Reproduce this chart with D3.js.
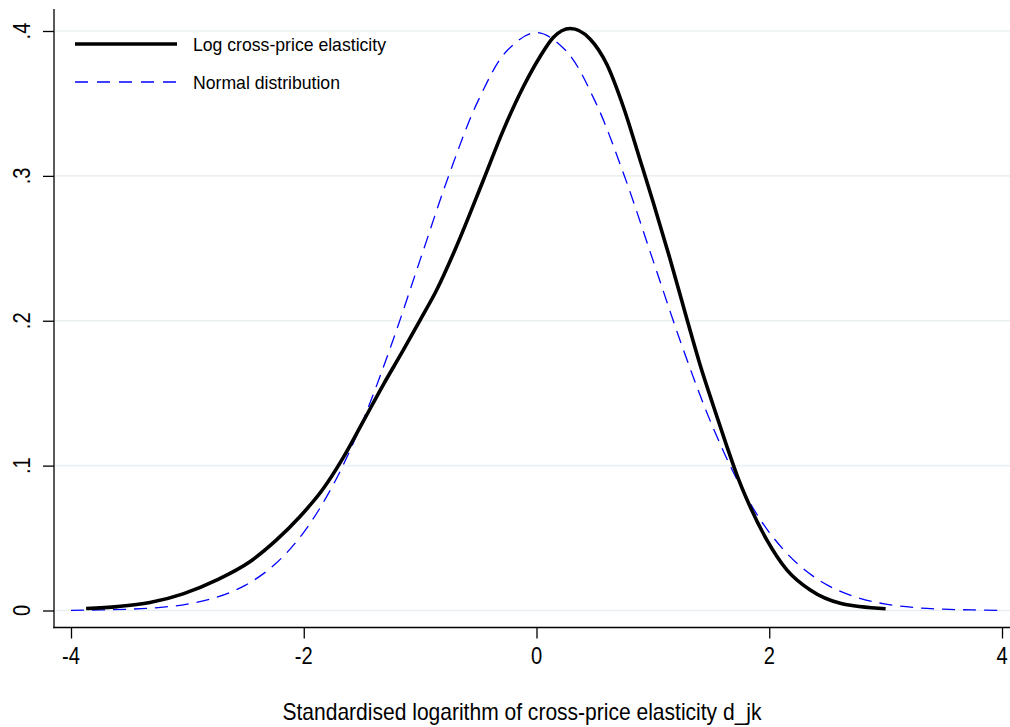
<!DOCTYPE html>
<html>
<head>
<meta charset="utf-8">
<script src="https://cdn.jsdelivr.net/npm/d3@7"></script>
<style>
  html, body { margin: 0; padding: 0; background: #fff; }
  svg { display: block; }
  text { font-family: "Liberation Sans Narrow", "Arial Narrow", "Liberation Sans", Arial, sans-serif; fill: #000; }
</style>
</head>
<body>
<svg id="chart" width="1010" height="727"></svg>
<script>
// ---- Data ----
const xTicks = [-4, -2, 0, 2, 4];
const yTicks = [0, 0.1, 0.2, 0.3, 0.4];
const yTickLabels = ["0", ".1", ".2", ".3", ".4"];
const seriesNames = ["Log cross-price elasticity", "Normal distribution"];
const xTitle = "Standardised logarithm of cross-price elasticity d_jk";

// Kernel density of the standardised log cross-price elasticity
const kdX = [-3.87, -3.6, -3.322, -3.037, -2.75, -2.463, -2.234, -2.034, -1.833, -1.661, -1.489, -1.317, -1.145, -1.0, -0.858, -0.701, -0.457, -0.285, -0.113, 0.03, 0.144, 0.29, 0.46, 0.604, 0.746, 0.89, 1.004, 1.148, 1.291, 1.406, 1.52, 1.635, 1.72, 1.836, 1.979, 2.151, 2.352, 2.61, 3.0];
const kdY = [0.0014, 0.0027, 0.0055, 0.0115, 0.021, 0.0337, 0.0487, 0.0647, 0.0840, 0.1055, 0.1305, 0.1558, 0.1797, 0.2005, 0.2212, 0.2488, 0.297, 0.3316, 0.3615, 0.3822, 0.3955, 0.4017, 0.3945, 0.3770, 0.3477, 0.311, 0.2815, 0.2425, 0.2015, 0.1695, 0.1412, 0.1135, 0.0940, 0.0716, 0.0487, 0.028, 0.0141, 0.005, 0.0012];

// Normal distribution curve values
const nX = [-4, -3.75, -3.5, -3.25, -3, -2.75, -2.5, -2.25, -2, -1.75, -1.5, -1.25, -1, -0.75, -0.5, -0.25, 0, 0.25, 0.5, 0.75, 1, 1.25, 1.5, 1.75, 2, 2.25, 2.5, 2.75, 3, 3.25, 3.5, 3.75, 4];
const nY = [0.0001, 0.0004, 0.0009, 0.0020, 0.0044, 0.0091, 0.0175, 0.0317, 0.0540, 0.0863, 0.1295, 0.1827, 0.2420, 0.3011, 0.3521, 0.3867, 0.3989, 0.3867, 0.3521, 0.3011, 0.2420, 0.1827, 0.1295, 0.0863, 0.0540, 0.0317, 0.0175, 0.0091, 0.0044, 0.0020, 0.0009, 0.0004, 0.0001];

// ---- Layout ----
const svg = d3.select("#chart");
const axisX = 54, axisY = 627.5, rightEdge = 1010, topEdge = 9;
const x = d3.scaleLinear().domain([-4, 4]).range([71, 1002]);
const y = d3.scaleLinear().domain([0, 0.4]).range([610.5, 31]);
const narrow = 0.84;

// gridlines
svg.append("g").selectAll("line").data(yTicks).join("line")
  .attr("x1", axisX + 1).attr("x2", rightEdge)
  .attr("y1", d => y(d)).attr("y2", d => y(d))
  .attr("stroke", "#eaf0f2").attr("stroke-width", 1.6);

// y axis
const gy = svg.append("g").attr("transform", `translate(${axisX},0)`)
  .call(d3.axisLeft(y).tickValues(yTicks).tickSize(11).tickFormat((d, i) => yTickLabels[i]));
gy.select(".domain").remove();
gy.selectAll(".tick line").attr("stroke", "#000").attr("stroke-width", 1.3);
gy.selectAll(".tick text").remove();
svg.append("line").attr("x1", axisX).attr("x2", axisX).attr("y1", topEdge).attr("y2", axisY + 0.7)
  .attr("stroke", "#000").attr("stroke-width", 1.3);
svg.append("g").selectAll("text").data(yTicks).join("text")
  .attr("transform", d => `translate(30,${y(d)}) rotate(-90) scale(${narrow},1)`)
  .attr("text-anchor", "middle").attr("font-size", 24)
  .text((d, i) => yTickLabels[i]);

// x axis
const gx = svg.append("g").attr("transform", `translate(0,${axisY})`)
  .call(d3.axisBottom(x).tickValues(xTicks).tickSize(11).tickFormat(d => d));
gx.select(".domain").remove();
gx.selectAll(".tick line").attr("stroke", "#000").attr("stroke-width", 1.3);
gx.selectAll(".tick text").remove();
svg.append("line").attr("x1", axisX - 0.6).attr("x2", rightEdge).attr("y1", axisY).attr("y2", axisY)
  .attr("stroke", "#000").attr("stroke-width", 1.3);
svg.append("g").selectAll("text").data(xTicks).join("text")
  .attr("transform", d => `translate(${x(d)},664) scale(${narrow},1)`)
  .attr("text-anchor", "middle").attr("font-size", 24)
  .text(d => d < 0 ? "-" + Math.abs(d) : String(d));

// x title
svg.append("text").attr("x", 522).attr("y", 720).attr("text-anchor", "middle")
  .attr("font-size", 24).attr("textLength", 479).attr("lengthAdjust", "spacingAndGlyphs")
  .text(xTitle);

// curves
const normalLine = d3.line().x(d => x(d[0])).y(d => y(d[1])).curve(d3.curveCatmullRom.alpha(0.5));
const kdLine = d3.line().x(d => x(d[0])).y(d => y(d[1])).curve(d3.curveMonotoneX);
const normalPts = nX.map((v, i) => [v, nY[i]]);
const kdPts = kdX.map((v, i) => [v, kdY[i]]);

svg.append("path").datum(normalPts).attr("d", normalLine)
  .attr("fill", "none").attr("stroke", "#0000ff").attr("stroke-width", 1.3)
  .attr("stroke-dasharray", "13,8");
svg.append("path").datum(kdPts).attr("d", kdLine)
  .attr("fill", "none").attr("stroke", "#000").attr("stroke-width", 3.6)
  .attr("stroke-linejoin", "round");

// legend
const legY = [44, 82];
svg.append("line").attr("x1", 75).attr("x2", 177).attr("y1", legY[0]).attr("y2", legY[0])
  .attr("stroke", "#000").attr("stroke-width", 3.6);
svg.append("line").attr("x1", 75).attr("x2", 177).attr("y1", legY[1]).attr("y2", legY[1])
  .attr("stroke", "#0000ff").attr("stroke-width", 1.3).attr("stroke-dasharray", "13,9");
svg.append("text").attr("x", 193).attr("y", legY[0] + 7).attr("font-size", 19)
  .attr("textLength", 193).attr("lengthAdjust", "spacingAndGlyphs").text(seriesNames[0]);
svg.append("text").attr("x", 193).attr("y", legY[1] + 7).attr("font-size", 19)
  .attr("textLength", 147).attr("lengthAdjust", "spacingAndGlyphs").text(seriesNames[1]);
</script>
</body>
</html>
